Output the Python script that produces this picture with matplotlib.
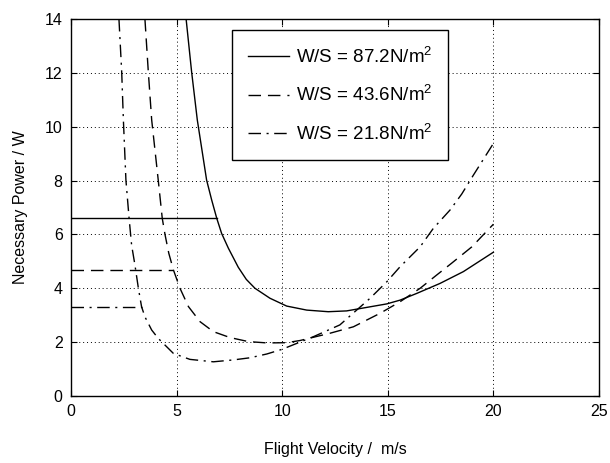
import matplotlib.pyplot as plt
import numpy as np

plt.rcParams['font.family'] = ['Liberation Sans', 'DejaVu Sans']
plt.rcParams['mathtext.fontset'] = 'custom'
plt.rcParams['mathtext.rm'] = 'Liberation Sans'

# W/S = 87.2 N/m^2 (solid)
v1 = np.array([5.45, 5.71, 5.98, 6.42, 6.66, 6.90, 7.13, 7.45, 7.92, 8.30, 8.71, 9.42,
               10.21, 11.16, 12.18, 13.05, 14.0, 14.95, 15.58, 16.37, 17.47, 18.58, 20.0])
p1 = np.array([14.0, 12.04, 10.25, 8.02, 7.28, 6.6, 6.04, 5.49, 4.78, 4.33, 4.0, 3.63,
               3.34, 3.19, 3.13, 3.16, 3.29, 3.42, 3.56, 3.81, 4.18, 4.62, 5.34])
# W/S = 43.6 N/m^2 (dashed)
v2 = np.array([3.5, 3.66, 3.82, 4.13, 4.32, 4.45, 4.63, 4.85, 5.16, 5.56, 6.11,
               6.74, 7.53, 8.40, 9.3, 10.21, 10.84, 12.26, 13.37, 14.63, 15.58, 16.53,
               17.31, 18.02, 18.98, 20.0])
p2 = np.array([14.0, 12.04, 10.25, 8.02, 6.6, 6.0, 5.3, 4.68, 4.0, 3.32, 2.76,
               2.39, 2.17, 2.02, 1.97, 1.98, 2.06, 2.33, 2.57, 3.07, 3.50, 4.0,
               4.49, 4.93, 5.54, 6.38])
# W/S = 21.8 N/m^2 (dash-dot)
v3 = np.array([2.27, 2.40, 2.48, 2.60, 2.75, 2.87, 3.03, 3.19, 3.34, 3.50, 3.82, 4.13,
               4.85, 5.63, 6.74, 7.69, 8.48, 9.27, 9.98, 11.47, 12.73, 14.16, 14.95,
               15.58, 16.53, 17.15, 17.95, 18.5, 19.05, 20.0])
p3 = np.array([14.0, 12.04, 10.25, 8.02, 6.6, 5.6, 4.85, 4.0, 3.32, 2.94, 2.45, 2.14,
               1.58, 1.36, 1.27, 1.34, 1.42, 1.56, 1.73, 2.20, 2.64, 3.63, 4.24,
               4.80, 5.54, 6.22, 6.91, 7.50, 8.20, 9.38])

# horizontal levels (from v=0 to the curve)
h_end = [6.90, 4.85, 3.34]
h_lvl = [6.6, 4.68, 3.32]

labels = ["W/S = 87.2N/m$^2$", "W/S = 43.6N/m$^2$", "W/S = 21.8N/m$^2$"]
styles = ['-', (0, (9, 5)), (0, (9, 4, 1.5, 4))]

fig = plt.figure(figsize=(6.1, 4.63), dpi=100)
ax = fig.add_axes([0.1164, 0.1447, 0.8656, 0.8143])

curves = [(v1, p1), (v2, p2), (v3, p3)]
for (v, p), ls, lab, xe, yl in zip(curves, styles, labels, h_end, h_lvl):
    ax.plot(v, p, color='black', lw=1.0, linestyle=ls, label=lab)
    ax.plot([0, xe], [yl, yl], color='black', lw=1.0, linestyle=ls)

ax.set_xlim(0, 25)
ax.set_ylim(0, 14)
ax.set_xticks(np.arange(0, 26, 5))
ax.set_yticks(np.arange(0, 15, 2))
ax.grid(True, color='black', linestyle=(0, (1, 3)), lw=0.7)
ax.tick_params(direction='in', top=True, right=True, length=4, labelsize=11.5, pad=6)
for s in ax.spines.values():
    s.set_linewidth(1.0)

ax.set_xlabel("Flight Velocity /  m/s", fontsize=11.5, labelpad=16)
ax.set_ylabel("Necessary Power / W", fontsize=11.5, labelpad=12)

leg = ax.legend(loc='upper left', bbox_to_anchor=(0.305, 0.971), fontsize=13.5,
                frameon=True, fancybox=False, edgecolor='black', framealpha=1,
                handlelength=2.2, handletextpad=0.35, labelspacing=0.95,
                borderpad=0.85, borderaxespad=0)
leg.get_frame().set_linewidth(1.0)

plt.savefig("out.png", dpi=100)
